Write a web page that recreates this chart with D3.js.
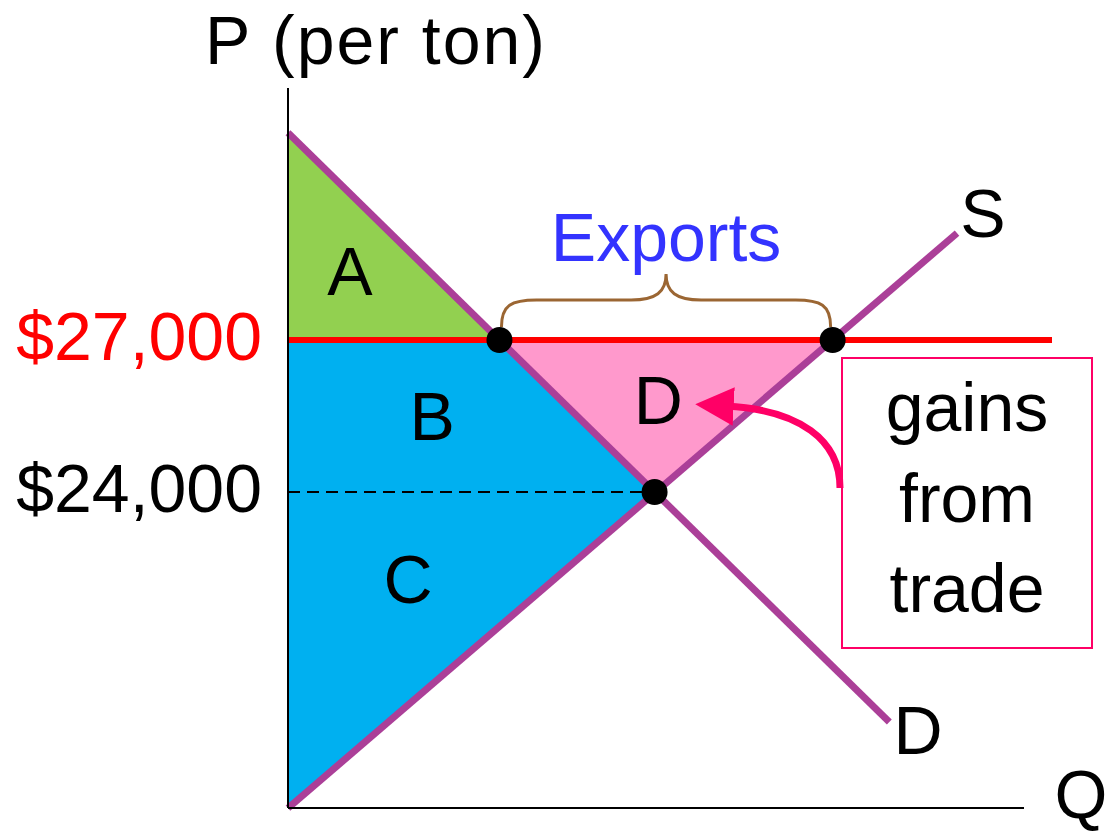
<!DOCTYPE html>
<html>
<head>
<meta charset="utf-8">
<script src="https://cdn.jsdelivr.net/npm/d3@7"></script>
<style>
  html, body { margin: 0; padding: 0; background: #fff; }
  svg { display: block; font-family: "Liberation Sans", Arial, sans-serif; }
</style>
</head>
<body>
<div id="chart"></div>
<script>
// --- DATA ---
// quantity in arbitrary units, price in $ per ton
const demand = [{q: 0, p: 31090}, {q: 81.7, p: 19460}];
const supply = [{q: 0, p: 17760}, {q: 90.9, p: 29110}];
const worldPrice = 27000;
const domesticPrice = 24000;
const priceTicks = [
  {p: 27000, label: "$27,000", color: "#ff0000"},
  {p: 24000, label: "$24,000", color: "#000000"}
];
const regionLabels = [
  {label: "A", q: 8.4, p: 28360},
  {label: "B", q: 19.6, p: 25500},
  {label: "C", q: 16.3, p: 22280},
  {label: "D", q: 50.3, p: 25820}
];
const boxLines = ["gains", "from", "trade"];

const width = 1107, height = 833;

const svg = d3.select("#chart").append("svg")
    .attr("width", width)
    .attr("height", height);

// --- SCALES ---
const x = d3.scaleLinear().domain([0, 100]).range([288, 1024]);
const y = d3.scaleLinear().domain([domesticPrice, worldPrice]).range([492, 340]);

const pBottom = y.invert(808);
const pTop = y.invert(88);

// quantity on a straight curve at a given price
function qAt(curve, p) {
  const [a, b] = curve;
  return a.q + (p - a.p) * (b.q - a.q) / (b.p - a.p);
}

const qD27 = qAt(demand, worldPrice);
const qS27 = qAt(supply, worldPrice);
const qEq = qAt(demand, domesticPrice);

const pt = d => [x(d.q), y(d.p)];

// --- AREAS ---
const areas = [
  {color: "#92d050", pts: [{q: 0, p: demand[0].p}, {q: 0, p: worldPrice}, {q: qD27, p: worldPrice}]},
  {color: "#00b0f0", pts: [{q: 0, p: worldPrice}, {q: qD27, p: worldPrice}, {q: qEq, p: domesticPrice}, supply[0]]},
  {color: "#ff99cc", pts: [{q: qD27, p: worldPrice}, {q: qS27, p: worldPrice}, {q: qEq, p: domesticPrice}]}
];

svg.append("g").selectAll("path")
    .data(areas)
    .join("path")
    .attr("d", d => "M" + d.pts.map(pt).join("L") + "Z")
    .attr("fill", d => d.color);

// dashed domestic price line
svg.append("line")
    .attr("x1", x(0)).attr("x2", x(qEq))
    .attr("y1", y(domesticPrice)).attr("y2", y(domesticPrice))
    .attr("stroke", "#000")
    .attr("stroke-width", 2)
    .attr("stroke-dasharray", "12,7");

// world price line
svg.append("line")
    .attr("x1", x(0)).attr("x2", 1052)
    .attr("y1", y(worldPrice)).attr("y2", y(worldPrice))
    .attr("stroke", "#ff0000")
    .attr("stroke-width", 6);

// --- CURVES ---
const line = d3.line().x(d => x(d.q)).y(d => y(d.p));
svg.append("g").selectAll("path")
    .data([demand, supply])
    .join("path")
    .attr("d", line)
    .attr("fill", "none")
    .attr("stroke", "#ab3f98")
    .attr("stroke-width", 7);

// --- AXES ---
svg.append("line")
    .attr("x1", x(0)).attr("x2", x(0))
    .attr("y1", y(pTop)).attr("y2", y(pBottom))
    .attr("stroke", "#000").attr("stroke-width", 2);
svg.append("line")
    .attr("x1", x(0)).attr("x2", x(100))
    .attr("y1", y(pBottom)).attr("y2", y(pBottom))
    .attr("stroke", "#000").attr("stroke-width", 2);

// --- DOTS ---
svg.append("g").selectAll("circle")
    .data([{q: qD27, p: worldPrice}, {q: qS27, p: worldPrice}, {q: qEq, p: domesticPrice}])
    .join("circle")
    .attr("cx", d => x(d.q))
    .attr("cy", d => y(d.p))
    .attr("r", 13)
    .attr("fill", "#000");

// --- EXPORTS BRACE ---
const bx0 = x(qD27) + 2, bx1 = x(qS27) - 2, bm = (bx0 + bx1) / 2;
const by = y(worldPrice) - 13;
svg.append("path")
    .attr("d", `M${bx0},${by} C${bx0},${by - 22} ${bx0 + 10},${by - 27} ${bx0 + 35},${by - 27}
                L${bm - 35},${by - 27} C${bm - 10},${by - 27} ${bm},${by - 35} ${bm},${by - 53}
                C${bm},${by - 35} ${bm + 10},${by - 27} ${bm + 35},${by - 27}
                L${bx1 - 35},${by - 27} C${bx1 - 10},${by - 27} ${bx1},${by - 22} ${bx1},${by}`)
    .attr("fill", "none")
    .attr("stroke", "#9b6633")
    .attr("stroke-width", 3);

const fs = 68;

svg.append("text")
    .attr("x", bm).attr("y", 261)
    .attr("text-anchor", "middle")
    .attr("font-size", fs)
    .attr("fill", "#3333ff")
    .text("Exports");

// --- TEXT LABELS ---
svg.append("text")
    .attr("x", 376).attr("y", 64)
    .attr("text-anchor", "middle")
    .attr("font-size", fs)
    .attr("letter-spacing", 2)
    .text("P (per ton)");

svg.append("g").selectAll("text")
    .data(priceTicks)
    .join("text")
    .attr("x", 262)
    .attr("y", d => y(d.p) + 20)
    .attr("text-anchor", "end")
    .attr("font-size", fs)
    .attr("fill", d => d.color)
    .text(d => d.label);

svg.append("g").selectAll("text")
    .data(regionLabels)
    .join("text")
    .attr("x", d => x(d.q))
    .attr("y", d => y(d.p) + 24)
    .attr("text-anchor", "middle")
    .attr("font-size", fs)
    .text(d => d.label);

svg.append("text")
    .attr("x", 983).attr("y", 237)
    .attr("text-anchor", "middle")
    .attr("font-size", fs)
    .text("S");
svg.append("text")
    .attr("x", 918).attr("y", 754)
    .attr("text-anchor", "middle")
    .attr("font-size", fs)
    .text("D");
svg.append("text")
    .attr("x", 1081).attr("y", 818)
    .attr("text-anchor", "middle")
    .attr("font-size", fs)
    .text("Q");

// --- GAINS FROM TRADE BOX ---
svg.append("rect")
    .attr("x", 842).attr("y", 358)
    .attr("width", 250).attr("height", 290)
    .attr("fill", "#fff")
    .attr("stroke", "#ff0066")
    .attr("stroke-width", 2);

svg.append("g").selectAll("text")
    .data(boxLines)
    .join("text")
    .attr("x", 967)
    .attr("y", (d, i) => 431 + i * 90.5)
    .attr("text-anchor", "middle")
    .attr("font-size", fs)
    .text(d => d);

// arrow
svg.append("defs").append("marker")
    .attr("id", "head")
    .attr("viewBox", "0 0 10 10")
    .attr("refX", 2).attr("refY", 5)
    .attr("markerWidth", 5.5).attr("markerHeight", 5.5)
    .attr("markerUnits", "strokeWidth")
    .attr("orient", "auto")
    .append("path")
    .attr("d", "M0,0 L10,5 L0,10 Z")
    .attr("fill", "#ff0066");

svg.append("path")
    .attr("d", "M840,488 C840,440 800,410 726,406")
    .attr("fill", "none")
    .attr("stroke", "#ff0066")
    .attr("stroke-width", 7)
    .attr("marker-end", "url(#head)");
</script>
</body>
</html>
